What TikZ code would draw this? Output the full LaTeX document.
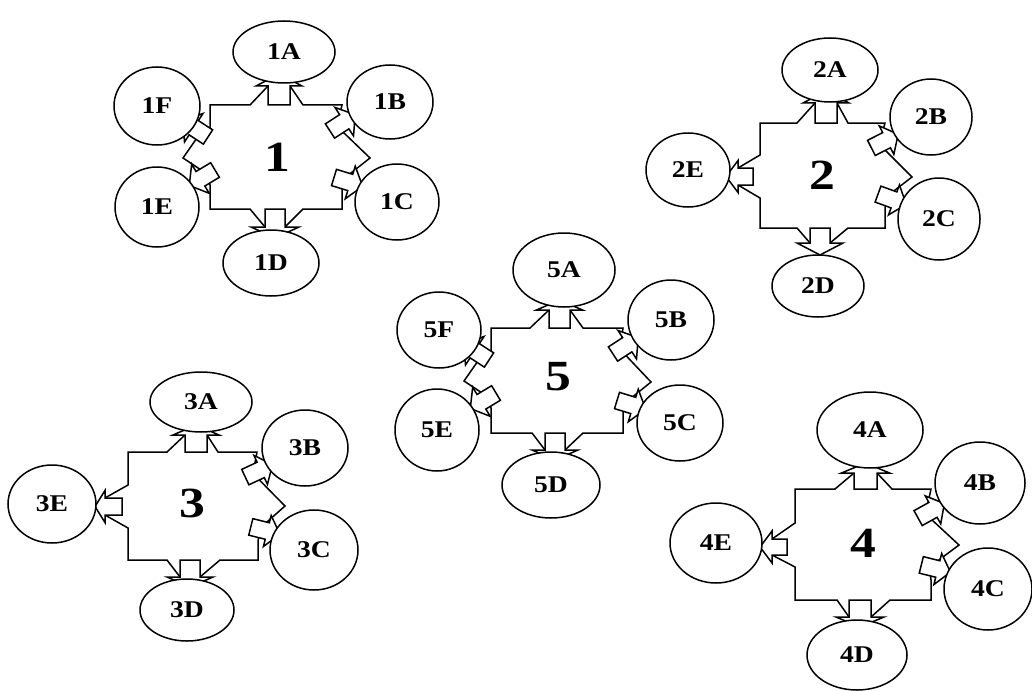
\documentclass[tikz,border=0pt]{standalone}
\usepackage{fontspec}
\setmainfont{Liberation Serif}
\usetikzlibrary{shapes.geometric}
\tikzset{
  shapeline/.style={line width=1.5pt, draw=black, line join=miter, fill=white},
  satellite/.style={ellipse, draw, line width=1.5pt, fill=white, inner sep=0pt,
    font=\fontsize{24}{24}\selectfont\bfseries},
  hub/.style={inner sep=0pt, font=\fontsize{43}{43}\selectfont\bfseries},
}
% satellite ellipse: name, x, y, width, height, text
\newcommand\sat[6]{\node[satellite, minimum width=#4pt, minimum height=#5pt] (#1) at (#2,#3) {\scalebox{1.15}[1]{#6}};}
% block arrow coordinates: name, x, y, angle, half shaft width, shaft length, half head width, head length
\newcommand\defarrow[8]{%
  \begin{scope}[shift={(#2,#3)},rotate=#4]
    \coordinate (#1-b1) at (0,-#5);
    \coordinate (#1-e1) at (#6,-#5);
    \coordinate (#1-h1) at (#6,-#7);
    \coordinate (#1-t) at ({#6+#8},0);
    \coordinate (#1-h2) at (#6,#7);
    \coordinate (#1-e2) at (#6,#5);
    \coordinate (#1-b2) at (0,#5);
    \coordinate (#1-s) at ({#6/2},0);
  \end{scope}}
\newcommand\drawarrow[1]{\path[shapeline] (#1-b1)--(#1-e1)--(#1-h1)--(#1-t)--(#1-h2)--(#1-e2)--(#1-b2)--cycle;}
\begin{document}
\begin{tikzpicture}[x=1pt,y=-1pt]
\path[use as bounding box, fill=white] (0,0) rectangle (1032,690);

% ---------- cluster 1 ----------
\defarrow{a1A}{279}{105}{90}{11}{19}{23}{12}
\defarrow{a1B}{330}{131}{33}{8.5}{17}{17}{13}
\defarrow{a1C}{334}{177.5}{-17}{8.5}{17}{17}{13}
\defarrow{a1D}{275}{209}{-90}{10}{18}{24}{11}
\defarrow{a1E}{215}{170}{211}{8.5}{17}{17}{13}
\defarrow{a1F}{208}{137}{147}{8.5}{17}{17}{13}
\path[shapeline] (210,105)--(250,105)--(a1A-e1)--(a1A-e2)--(303,105)--(342,105)--(a1B-s)--(370,158)--(a1C-s)--(342,190)--(342,209)--(303,209)--(a1D-e1)--(a1D-e2)--(250,209)--(210,209)--(210,185)--(a1E-s)--(183,158)--(a1F-s)--(210,133)--cycle;
\foreach \a in {a1A,a1B,a1C,a1D,a1E,a1F} {\drawarrow{\a}}
\sat{n1A}{284}{52}{102}{62}{1A}
\sat{n1B}{390}{102}{86}{74}{1B}
\sat{n1C}{397}{202}{84}{76}{1C}
\sat{n1D}{271}{263}{96}{66}{1D}
\sat{n1E}{157}{207}{84}{80}{1E}
\sat{n1F}{157}{106}{86}{78}{1F}
\node[hub] (h1) at (277,157) {\scalebox{1.2}[1]{1}};

% ---------- cluster 2 ----------
\defarrow{a2A}{826}{123}{90}{11}{20}{23}{12}
\defarrow{a2B}{871.4}{147.9}{27}{8.5}{17}{16}{13}
\defarrow{a2C}{878}{194.1}{-20}{8.5}{17}{16}{13}
\defarrow{a2D}{820}{228}{-90}{10}{15}{23}{12}
\defarrow{a2E}{753}{176.5}{180}{8.5}{15}{16}{12}
\path[shapeline] (760,123)--(797,123)--(a2A-e1)--(a2A-e2)--(848,123)--(885,123)--(a2B-s)--(912,177)--(a2C-s)--(885,210)--(885,228)--(848,228)--(a2D-e1)--(a2D-e2)--(797,228)--(760,228)--(760,198)--(a2E-e1)--(a2E-e2)--(760,155)--cycle;
\foreach \a in {a2A,a2B,a2C,a2D,a2E} {\drawarrow{\a}}
\sat{n2A}{830}{70}{96}{64}{2A}
\sat{n2B}{931}{117}{82}{76}{2B}
\sat{n2C}{939}{219}{82}{82}{2C}
\sat{n2D}{818}{286}{92}{62}{2D}
\sat{n2E}{688}{170}{84}{74}{2E}
\node[hub] (h2) at (822,175) {\scalebox{1.2}[1]{2}};

% ---------- cluster 3 ----------
\defarrow{a3A}{196}{452}{90}{11}{17}{23}{10}
\defarrow{a3B}{245.3}{477.1}{25}{8.5}{17}{16}{13}
\defarrow{a3C}{250.8}{526.9}{-14}{8.5}{17}{16}{13}
\defarrow{a3D}{190}{560}{-90}{10}{17}{23}{10}
\defarrow{a3E}{122}{506.5}{180}{8.5}{17}{16}{10}
\path[shapeline] (128,452)--(167,452)--(a3A-e1)--(a3A-e2)--(218,452)--(257,452)--(a3B-s)--(285,506)--(a3C-s)--(258,543)--(258,560)--(220,560)--(a3D-e1)--(a3D-e2)--(167,560)--(128,560)--(128,528)--(a3E-e1)--(a3E-e2)--(128,485)--cycle;
\foreach \a in {a3A,a3B,a3C,a3D,a3E} {\drawarrow{\a}}
\sat{n3A}{201}{402}{102}{60}{3A}
\sat{n3B}{305}{448}{86}{76}{3B}
\sat{n3C}{314}{550}{88}{80}{3C}
\sat{n3D}{187}{610}{94}{62}{3D}
\sat{n3E}{52}{504}{88}{78}{3E}
\node[hub] (h3) at (192,503) {\scalebox{1.2}[1]{3}};

% ---------- cluster 4 ----------
\defarrow{a4A}{865.5}{489}{90}{11.5}{16}{24}{10}
\defarrow{a4B}{918.1}{518.1}{29}{8.5}{17}{16}{13}
\defarrow{a4C}{921.3}{564.9}{-14}{8.5}{17}{16}{13}
\defarrow{a4D}{860}{600}{-90}{11}{17}{24}{10}
\defarrow{a4E}{787}{547}{180}{8}{15}{16}{12}
\path[shapeline] (795,489)--(835,489)--(a4A-e1)--(a4A-e2)--(892,489)--(931,489)--(a4B-s)--(959,545)--(a4C-s)--(931,580)--(931,600)--(890,600)--(a4D-e1)--(a4D-e2)--(837,600)--(795,600)--(795,567)--(a4E-e1)--(a4E-e2)--(795,523)--cycle;
\foreach \a in {a4A,a4B,a4C,a4D,a4E} {\drawarrow{\a}}
\sat{n4A}{870}{430}{106}{76}{4A}
\sat{n4B}{980}{483}{90}{82}{4B}
\sat{n4C}{988}{589}{88}{82}{4C}
\sat{n4D}{857}{655}{100}{70}{4D}
\sat{n4E}{716}{543}{92}{80}{4E}
\node[hub] (h4) at (863,543) {\scalebox{1.2}[1]{4}};

% ---------- cluster 5 ----------
\defarrow{a5A}{559.5}{328}{90}{10.5}{18}{23}{10}
\defarrow{a5B}{613}{354}{33}{8.5}{17}{17}{13}
\defarrow{a5C}{617}{400.5}{-17}{8.5}{17}{17}{13}
\defarrow{a5D}{555}{433}{-90}{10}{17}{23}{10}
\defarrow{a5E}{496}{393}{211}{8.5}{17}{17}{13}
\defarrow{a5F}{489}{360}{147}{8.5}{17}{17}{13}
\path[shapeline] (491,328)--(530,328)--(a5A-e1)--(a5A-e2)--(583,328)--(623,328)--(a5B-s)--(651,382)--(a5C-s)--(623,413)--(623,433)--(583,433)--(a5D-e1)--(a5D-e2)--(532,433)--(491,433)--(491,408)--(a5E-s)--(464,381)--(a5F-s)--(491,356)--cycle;
\foreach \a in {a5A,a5B,a5C,a5D,a5E,a5F} {\drawarrow{\a}}
\sat{n5A}{564}{270}{102}{74}{5A}
\sat{n5B}{671}{320}{86}{80}{5B}
\sat{n5C}{680}{423}{86}{76}{5C}
\sat{n5D}{551}{485}{98}{66}{5D}
\sat{n5E}{437}{430}{84}{82}{5E}
\sat{n5F}{439}{330}{84}{76}{5F}
\node[hub] (h5) at (558,377) {\scalebox{1.2}[1]{5}};
\end{tikzpicture}
\end{document}
